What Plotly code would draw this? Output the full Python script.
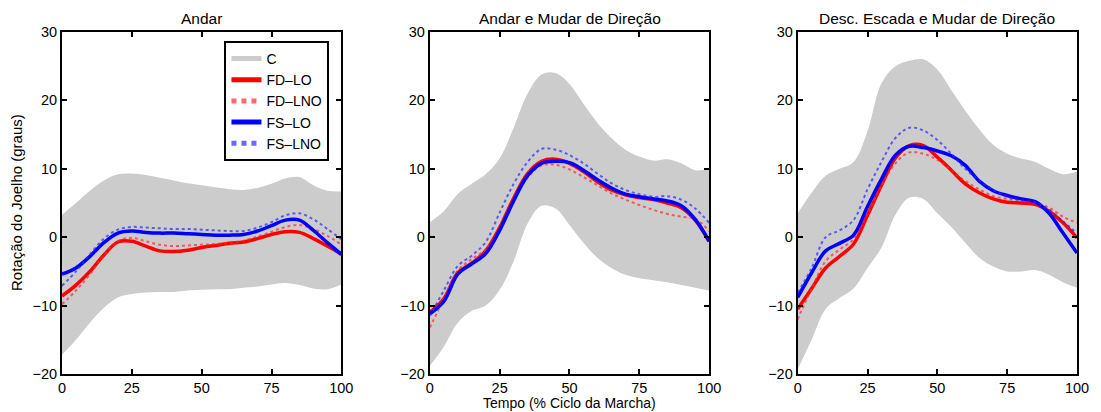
import plotly.graph_objects as go

# ---------------- data ----------------
pct = [0, 5, 10, 15, 20, 25, 30, 35, 40, 45, 50, 55, 60, 65, 70, 75, 80, 85, 90, 95, 100]

titles = ["Andar", "Andar e Mudar de Direção", "Desc. Escada e Mudar de Direção"]
series_names = ["FD\u2013LO", "FD\u2013LNO", "FS\u2013LO", "FS\u2013LNO"]
band_name = "C"

# Panel 1: Andar
andar_c_upper = [3.3, 5.0, 6.8, 8.3, 9.2, 9.3, 9.1, 8.7, 8.3, 7.9, 7.6, 7.3, 7.0, 6.9, 7.2, 7.8, 8.6, 8.8, 7.6, 6.8, 6.7]
andar_c_lower = [-17.2, -15.0, -12.5, -10.3, -8.8, -8.3, -8.1, -8.0, -8.0, -7.8, -7.7, -7.6, -7.6, -7.4, -7.2, -6.9, -6.7, -7.0, -7.5, -7.6, -6.9]
andar_fd_lo = [-8.6, -7.0, -5.0, -2.6, -0.7, -0.6, -1.3, -2.0, -2.1, -1.9, -1.5, -1.2, -0.9, -0.7, -0.2, 0.4, 0.8, 0.7, -0.2, -1.3, -2.5]
andar_fd_lno = [-9.8, -7.8, -5.4, -2.6, -0.6, -0.1, -0.6, -1.1, -1.3, -1.2, -1.1, -1.0, -0.8, -0.5, 0.1, 0.8, 1.5, 1.8, 1.2, 0.2, -1.1]
andar_fs_lo = [-5.4, -4.5, -2.8, -0.8, 0.6, 0.9, 0.7, 0.6, 0.6, 0.5, 0.4, 0.3, 0.3, 0.4, 0.9, 1.7, 2.5, 2.5, 1.0, -0.8, -2.5]
andar_fs_lno = [-7.1, -5.0, -2.5, -0.2, 1.1, 1.5, 1.4, 1.3, 1.2, 1.2, 1.1, 1.0, 0.9, 0.9, 1.4, 2.2, 3.2, 3.5, 2.6, 1.2, -0.3]

# Panel 2: Andar e Mudar de Direção
amd_c_upper = [2.2, 3.8, 6.3, 7.8, 9.2, 11.5, 16.0, 21.0, 23.8, 24.0, 22.4, 19.5, 16.7, 14.5, 12.8, 11.8, 11.2, 11.4, 10.8, 9.8, 10.0]
amd_c_lower = [-18.8, -16.0, -12.5, -10.8, -10.0, -7.7, -3.5, 2.0, 4.6, 4.2, 1.8, -0.8, -3.0, -4.5, -5.5, -6.0, -6.3, -6.6, -7.0, -7.4, -7.8]
amd_fd_lo = [-11.0, -9.0, -5.2, -3.8, -2.0, 1.4, 5.7, 9.3, 11.1, 11.4, 10.8, 9.6, 8.1, 6.9, 6.2, 5.8, 5.5, 5.0, 4.3, 2.5, -0.6]
amd_fd_lno = [-13.2, -9.0, -4.9, -3.2, -1.8, 1.1, 5.3, 8.7, 10.5, 10.6, 9.9, 8.8, 7.6, 6.4, 5.5, 4.7, 4.0, 3.4, 3.0, 2.7, 0.9]
amd_fs_lo = [-11.2, -9.4, -5.4, -3.9, -2.4, 1.0, 5.3, 9.0, 10.8, 11.1, 10.9, 9.8, 8.4, 7.2, 6.3, 5.9, 5.6, 5.3, 4.6, 2.6, -0.6]
amd_fs_lno = [-11.5, -7.8, -4.2, -2.7, -0.7, 3.6, 7.8, 11.0, 12.9, 12.8, 12.0, 10.8, 9.3, 7.9, 6.9, 6.3, 5.9, 6.0, 5.5, 4.2, 2.1]

# Panel 3: Desc. Escada e Mudar de Direção
dem_c_upper = [3.5, 6.5, 9.0, 10.0, 11.0, 15.5, 22.5, 25.0, 25.8, 26.0, 24.5, 21.5, 18.5, 15.8, 13.5, 12.2, 11.5, 11.0, 10.0, 9.2, 9.6]
dem_c_lower = [-19.3, -15.0, -10.5, -8.9, -7.5, -4.5, -1.5, 3.3, 5.8, 5.6, 3.5, 1.5, -0.8, -3.0, -4.3, -5.0, -5.0, -4.8, -5.5, -6.6, -7.4]
dem_fd_lo = [-10.5, -7.5, -4.5, -2.8, -1.0, 3.2, 7.6, 11.6, 13.4, 13.4, 11.7, 9.8, 7.8, 6.5, 5.6, 5.1, 5.0, 4.8, 3.8, 2.1, -0.1]
dem_fd_lno = [-12.0, -7.5, -3.5, -1.8, -0.3, 3.5, 7.5, 10.8, 12.4, 12.2, 11.3, 9.8, 8.2, 7.0, 6.0, 5.6, 5.4, 5.0, 4.3, 3.0, 2.1]
dem_fs_lo = [-8.8, -5.2, -2.0, -0.9, 0.3, 4.5, 8.5, 12.0, 13.3, 13.1, 12.6, 11.9, 10.5, 8.2, 6.8, 6.1, 5.6, 5.2, 3.5, 0.6, -2.3]
dem_fs_lno = [-8.1, -4.5, 0.0, 1.0, 2.5, 7.0, 11.0, 14.5, 16.0, 15.6, 14.2, 12.2, 10.0, 8.3, 6.9, 5.9, 5.4, 5.1, 4.0, 2.3, 0.6]

y_ticks = [-20, -10, 0, 10, 20, 30]
y_tick_text = ["\u221220", "\u221210", "0", "10", "20", "30"]
x_ticks = [0, 25, 50, 75, 100]

panels = [
    (andar_c_upper, andar_c_lower, [andar_fd_lo, andar_fd_lno, andar_fs_lo, andar_fs_lno]),
    (amd_c_upper, amd_c_lower, [amd_fd_lo, amd_fd_lno, amd_fs_lo, amd_fs_lno]),
    (dem_c_upper, dem_c_lower, [dem_fd_lo, dem_fd_lno, dem_fs_lo, dem_fs_lno]),
]

styles = [
    dict(color="#ff0000", width=3.5, dash="solid"),
    dict(color="rgba(255,40,40,0.7)", width=2, dash="dot"),
    dict(color="#0000ff", width=3.5, dash="solid"),
    dict(color="rgba(40,40,255,0.7)", width=2, dash="dot"),
]
band_color = "#cccccc"

domains = [[0.0, 0.2752], [0.3624, 0.6376], [0.7248, 1.0]]

fig = go.Figure()

for i, (up, lo, lines) in enumerate(panels):
    xa = "x" if i == 0 else f"x{i+1}"
    ya = "y" if i == 0 else f"y{i+1}"
    fig.add_trace(go.Scatter(x=pct, y=lo, mode="lines", line=dict(width=0, color=band_color, shape="spline"),
                             showlegend=False, hoverinfo="skip", xaxis=xa, yaxis=ya))
    fig.add_trace(go.Scatter(x=pct, y=up, mode="lines", line=dict(width=0, color=band_color, shape="spline"),
                             fill="tonexty", fillcolor=band_color, showlegend=False, hoverinfo="skip",
                             xaxis=xa, yaxis=ya))
    if i == 0:
        fig.add_trace(go.Scatter(x=[None], y=[None], mode="lines", name=band_name,
                                 line=dict(color=band_color, width=3.5), xaxis=xa, yaxis=ya))
    for name, vals, st in zip(series_names, lines, styles):
        fig.add_trace(go.Scatter(x=pct, y=vals, mode="lines", name=name,
                                 line=dict(color=st["color"], width=st["width"], dash=st["dash"], shape="spline"),
                                 showlegend=(i == 0), xaxis=xa, yaxis=ya))

axis_common = dict(showline=True, linecolor="black", linewidth=2, mirror="allticks",
                   ticks="inside", ticklen=5, tickwidth=2, tickcolor="black",
                   showgrid=False, zeroline=False, tickfont=dict(size=14.5, color="black"))

layout_axes = {}
for i in range(3):
    xk = "xaxis" if i == 0 else f"xaxis{i+1}"
    yk = "yaxis" if i == 0 else f"yaxis{i+1}"
    layout_axes[xk] = dict(domain=domains[i], range=[0, 100], tickvals=x_ticks,
                           anchor="y" if i == 0 else f"y{i+1}", **axis_common)
    layout_axes[yk] = dict(domain=[0, 1], range=[-20, 30], tickvals=y_ticks, ticktext=y_tick_text,
                           anchor="x" if i == 0 else f"x{i+1}", **axis_common)

annotations = []
for i, t in enumerate(titles):
    annotations.append(dict(text=t, x=(domains[i][0] + domains[i][1]) / 2, y=1, xref="paper", yref="paper",
                            xanchor="center", yanchor="middle", yshift=14, showarrow=False,
                            font=dict(size=15.5, color="black")))
annotations.append(dict(text="Tempo (% Ciclo da Marcha)", x=(domains[1][0] + domains[1][1]) / 2, y=0,
                        xref="paper", yref="paper", xanchor="center", yanchor="bottom", yshift=-38,
                        showarrow=False, borderpad=0, font=dict(size=14, color="black")))
annotations.append(dict(text="Rotação do Joelho (graus)", x=0, y=0.5, xref="paper", yref="paper",
                        xanchor="center", yanchor="middle", xshift=-46, textangle=-90,
                        showarrow=False, font=dict(size=15, color="black")))

fig.update_layout(
    width=1101, height=412,
    margin=dict(l=62, r=18, t=32, b=38),
    plot_bgcolor="white", paper_bgcolor="white",
    font=dict(family="Liberation Sans, Arial, Helvetica, sans-serif", size=14, color="black"),
    showlegend=True,
    legend=dict(x=0.2635, xanchor="right", y=0.974, yanchor="top", bgcolor="white",
                bordercolor="black", borderwidth=2, font=dict(size=14, color="black"),
                traceorder="normal", tracegroupgap=0, itemsizing="constant"),
    annotations=annotations,
    **layout_axes,
)

fig.write_html("out.html", config={"displayModeBar": False},
               post_script="document.body.style.margin='0';")
